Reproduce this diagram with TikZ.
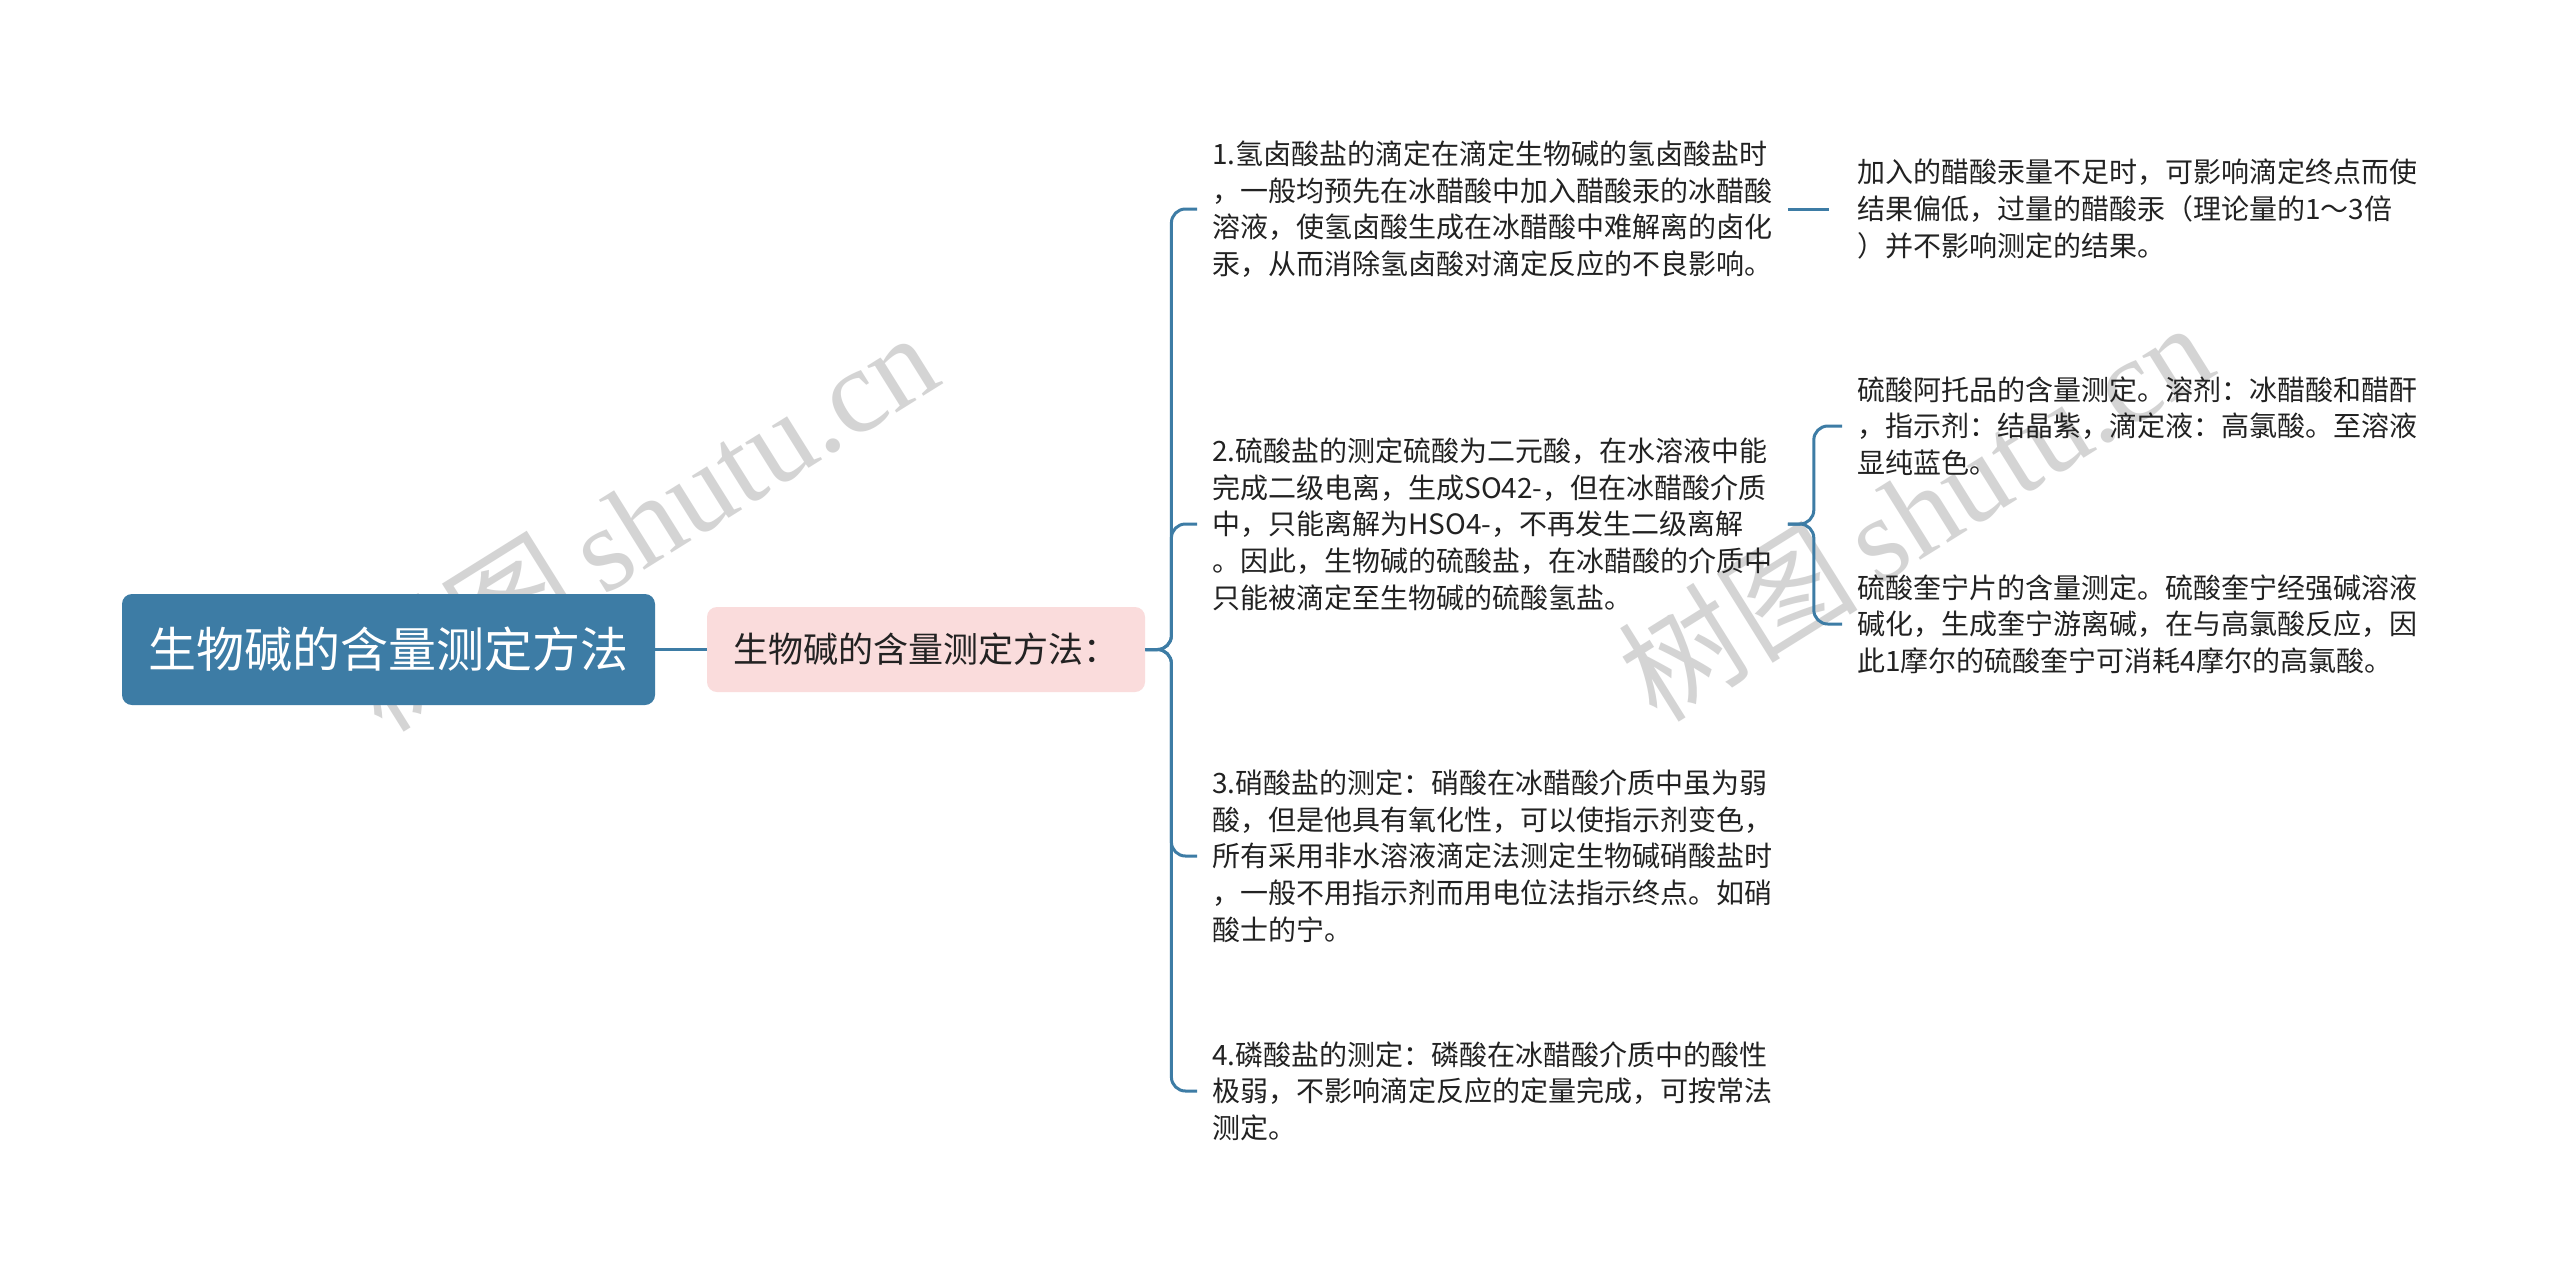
\documentclass[tikz,border=0pt]{standalone}
\usepackage{fontspec}
\setmainfont{Noto Sans CJK SC}
\newfontfamily\wmserif{Liberation Serif}
\definecolor{mblue}{HTML}{3D7CA5}
\definecolor{mpink}{HTML}{FADCDC}
\definecolor{txt}{HTML}{222222}
\tikzset{
 rootbox/.style={fill=mblue, rounded corners=5pt, text=white, font=\fontsize{24}{28}\selectfont, minimum width=266.5pt, minimum height=55.5pt, inner sep=0pt},
 subbox/.style={fill=mpink, rounded corners=5pt, text=txt, font=\fontsize{17.5}{21}\selectfont, minimum width=219pt, minimum height=42.5pt, inner sep=0pt},
 itembox/.style={align=left, anchor=west, inner xsep=7.5pt, inner ysep=2pt, text=txt, font=\fontsize{14}{18.35}\selectfont},
 link/.style={draw=mblue, line width=1.5pt, rounded corners=7pt},
 wm/.style={text=black!30, opacity=0.55, rotate=32, inner sep=0pt}
}
\begin{document}
\begin{tikzpicture}[x=0.5pt, y=-0.5pt]
\useasboundingbox (0,0) rectangle (2560,1282);
\fill[white] (0,0) rectangle (2560,1282);

% watermarks
\node[wm] (wm1) at (640,520) {\fontsize{60}{60}\selectfont 树图\,{\wmserif shutu.cn}};
\node[wm] (wm2) at (1915,510) {\fontsize{60}{60}\selectfont 树图\,{\wmserif shutu.cn}};

\node[rootbox] (root) at (388.5,649.5) {生物碱的含量测定方法};
\node[subbox] (sub) at (926,649.5) {生物碱的含量测定方法：};

\node[itembox] (i1) at (1197,209) {1.氢卤酸盐的滴定在滴定生物碱的氢卤酸盐时\\，一般均预先在冰醋酸中加入醋酸汞的冰醋酸\\溶液，使氢卤酸生成在冰醋酸中难解离的卤化\\汞，从而消除氢卤酸对滴定反应的不良影响。};
\node[itembox] (i2) at (1197,524) {2.硫酸盐的测定硫酸为二元酸，在水溶液中能\\完成二级电离，生成SO42-，但在冰醋酸介质\\中，只能离解为HSO4-，不再发生二级离解\\。因此，生物碱的硫酸盐，在冰醋酸的介质中\\只能被滴定至生物碱的硫酸氢盐。};
\node[itembox] (i3) at (1197,856) {3.硝酸盐的测定：硝酸在冰醋酸介质中虽为弱\\酸，但是他具有氧化性，可以使指示剂变色，\\所有采用非水溶液滴定法测定生物碱硝酸盐时\\，一般不用指示剂而用电位法指示终点。如硝\\酸士的宁。};
\node[itembox] (i4) at (1197,1091) {4.磷酸盐的测定：磷酸在冰醋酸介质中的酸性\\极弱，不影响滴定反应的定量完成，可按常法\\测定。};

\node[itembox] (c1) at (1842,209) {加入的醋酸汞量不足时，可影响滴定终点而使\\结果偏低，过量的醋酸汞（理论量的1～3倍\\）并不影响测定的结果。};
\node[itembox] (c2) at (1842,426) {硫酸阿托品的含量测定。溶剂：冰醋酸和醋酐\\，指示剂：结晶紫，滴定液：高氯酸。至溶液\\显纯蓝色。};
\node[itembox] (c3) at (1842,624) {硫酸奎宁片的含量测定。硫酸奎宁经强碱溶液\\碱化，生成奎宁游离碱，在与高氯酸反应，因\\此1摩尔的硫酸奎宁可消耗4摩尔的高氯酸。};

\draw[link] (root.east) -- (sub.west);
\foreach \n in {i1,i2,i3,i4}
  \draw[link] (sub.east) -- ++(26,0) |- (\n.west);
\draw[link] (i1.east) -- ([xshift=-6.5pt]c1.west);
\foreach \n in {c2,c3}
  \draw[link] (i2.east) -- ++(26,0) |- (\n.west);
\end{tikzpicture}
\end{document}
